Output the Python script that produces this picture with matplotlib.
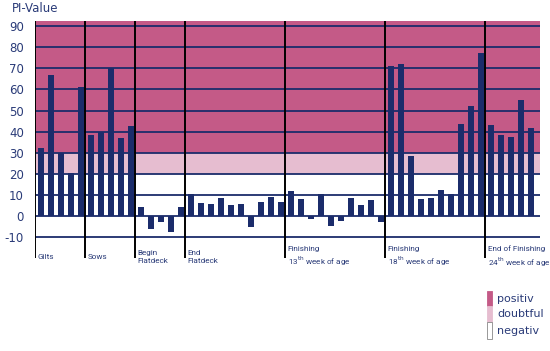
import matplotlib
matplotlib.use("Agg")
import matplotlib.pyplot as plt
from matplotlib.patches import Rectangle

groups = ["Gilts", "Sows", "Begin\nFlatdeck", "End\nFlatdeck",
          "Finishing\n13$^{\\rm th}$ week of age",
          "Finishing\n18$^{\\rm th}$ week of age",
          "End of Finishing\n24$^{\\rm th}$ week of age"]
gilts = [32, 67, 30, 20.5, 61]
sows = [38.5, 40, 70, 37, 42.5]
begin_flatdeck = [4.3, -6.3, -2.8, -7.7, 4.3]
end_flatdeck = [10.3, 5.9, 5.6, 8.5, 5.0, 5.5, -5.2, 6.6, 9.0, 6.6]
finishing_13 = [11.9, 8.0, -1.6, 10.4, -4.9, -2.4, 8.5, 5.2, 7.6, -3.0]
finishing_18 = [71, 72, 28.3, 8.1, 8.5, 12.2, 10.6, 43.8, 52, 77.5]
end_finishing_24 = [42.9, 38.6, 37.3, 55, 41.6]
series = [gilts, sows, begin_flatdeck, end_flatdeck, finishing_13, finishing_18, end_finishing_24]
yticks = list(range(-10, 91, 10))
legend_labels = ["positiv", "doubtful", "negativ"]

navy = "#1b2c6b"
pink = "#c45a87"
light_pink = "#e6bdd0"
text_col = "#2a3b78"
narrow = ["Liberation Sans Narrow", "Roboto", "DejaVu Sans"]

fig = plt.figure(figsize=(5.5, 3.51), dpi=100)
ax = fig.add_axes([35/550, 1-258/351, 505/550, (258-21)/351])
ymin, ymax = -20, 92.5

values = [v for s in series for v in s]
xs = list(range(len(values)))
starts = []
c = 0
for s in series:
    starts.append(c)
    c += len(s)

ax.axhspan(30, ymax, color=pink, lw=0, zorder=0)
ax.axhspan(20, 30, color=light_pink, lw=0, zorder=0)
for y in yticks:
    ax.axhline(y, color=navy, lw=1.3, zorder=1)
ax.bar(xs, values, width=0.6, color=navy, zorder=2)

off = 0.6
for st in starts:
    ax.axvline(st - off, color="black", lw=1.4, zorder=3)

for st, lab in zip(starts, groups):
    ax.text(st - off + 0.25, -19.6, lab, fontsize=5.9, color=text_col,
            family=narrow, va="center", ha="left", linespacing=1.3,
            clip_on=False)

ax.set_xlim(-off, len(values) - 1 + 0.9)
ax.set_ylim(ymin, ymax)
ax.set_yticks(yticks)
ax.set_yticklabels([str(t) for t in yticks], fontsize=8.5, color=text_col)
ax.tick_params(axis="y", length=0, pad=8)
ax.set_xticks([])
for sp in ax.spines.values():
    sp.set_visible(False)

fig.text(12/550, 1-8/351, "PI-Value", fontsize=8.5, color=text_col, va="center", ha="left")

# legend
lx, lw_ = 487/550, 5/550
boxes = [(pink, pink, 291, 306), (light_pink, light_pink, 306, 322), ("white", "#888888", 322, 339)]
for (fc, ec, y0, y1), lab in zip(boxes, legend_labels):
    fig.patches.append(Rectangle((lx, 1-y1/351), lw_, (y1-y0)/351, facecolor=fc,
                                 edgecolor=ec, lw=0.6, transform=fig.transFigure))
    fig.text(497/550, 1-((y0+y1)/2)/351, lab, fontsize=8, color=text_col, va="center", ha="left")

fig.savefig("out.png", dpi=100)
